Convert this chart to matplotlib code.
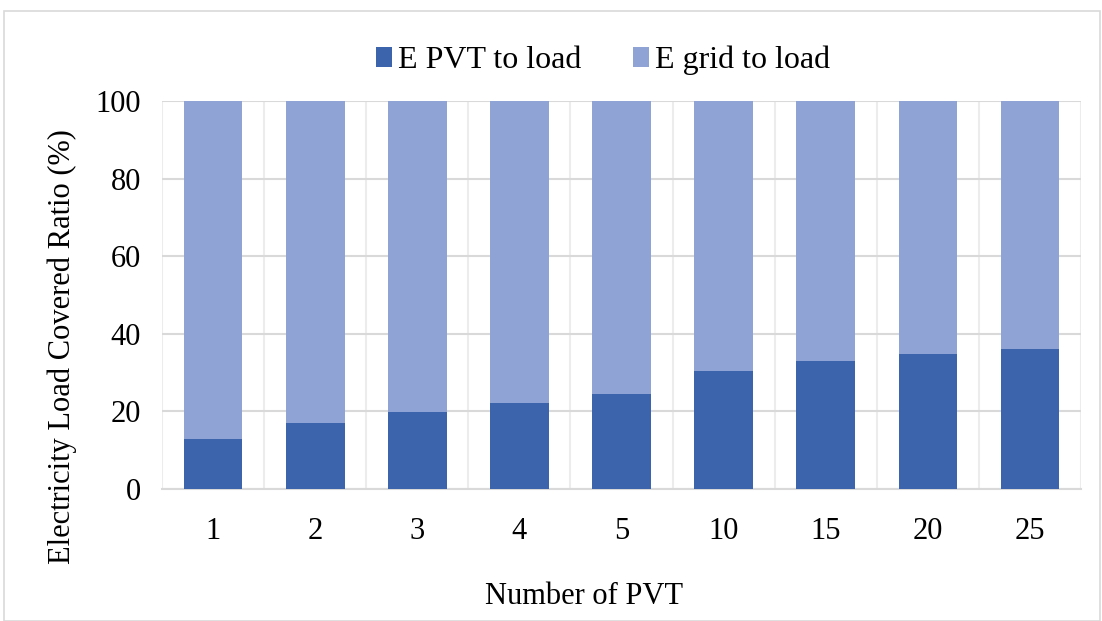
import matplotlib.pyplot as plt
import numpy as np
from matplotlib.patches import Rectangle

plt.rcParams['font.family'] = ['Liberation Serif', 'DejaVu Serif']

# data
categories = ["1", "2", "3", "4", "5", "10", "15", "20", "25"]
pvt_to_load = [13.0, 17.0, 19.8, 22.3, 24.6, 30.5, 33.1, 34.9, 36.0]
grid_to_load = [100 - v for v in pvt_to_load]

c_pvt = "#3B64AD"
c_grid = "#8FA4D4"

fig = plt.figure(figsize=(11.02, 6.21), dpi=100)
ax = fig.add_axes([0.147, 0.2126, 0.834, 0.6244])

x = np.arange(len(categories))
ax.bar(x, pvt_to_load, width=0.575, color=c_pvt, label="E PVT to load", zorder=3)
ax.bar(x, grid_to_load, width=0.575, bottom=pvt_to_load, color=c_grid,
       label="E grid to load", zorder=3)

ax.set_xlim(-0.5, len(categories) - 0.5)
ax.set_ylim(0, 100)
ax.set_yticks(range(0, 101, 20))
ax.set_xticks(x)
ax.set_xticklabels(categories)
ax.set_xticks(np.arange(-0.5, len(categories), 1), minor=True)

ax.grid(axis="y", which="major", color="#d9d9d9", linewidth=1.5, zorder=0)
ax.grid(axis="x", which="minor", color="#ececec", linewidth=1.5, zorder=0)
ax.tick_params(axis="both", which="both", length=0, labelsize=22)
ax.tick_params(axis="x", pad=20)
ax.tick_params(axis="y", pad=15)

for s in ["top", "right", "left"]:
    ax.spines[s].set_visible(False)
ax.spines["bottom"].set_color("#d9d9d9")
ax.spines["bottom"].set_linewidth(1.5)

# axis titles sit off-centre like the original
ax.set_ylabel("Electricity Load Covered Ratio (%)", fontsize=22)
ax.set_xlabel("Number of PVT", fontsize=22)
ax.yaxis.set_label_coords(-0.092, 0.366)
ax.xaxis.set_label_coords(0.459, -0.24)

ax.legend(loc="center", bbox_to_anchor=(0.48, 1.105), ncol=2, frameon=False,
          fontsize=23, handlelength=0.5, handleheight=0.6, handletextpad=0.2,
          columnspacing=1.6)

fig.patches.append(Rectangle((0.004, 0.0), 0.994, 0.982, transform=fig.transFigure,
                             fill=False, edgecolor="#d9d9d9", linewidth=1.2))

fig.savefig("out.png", dpi=100)
